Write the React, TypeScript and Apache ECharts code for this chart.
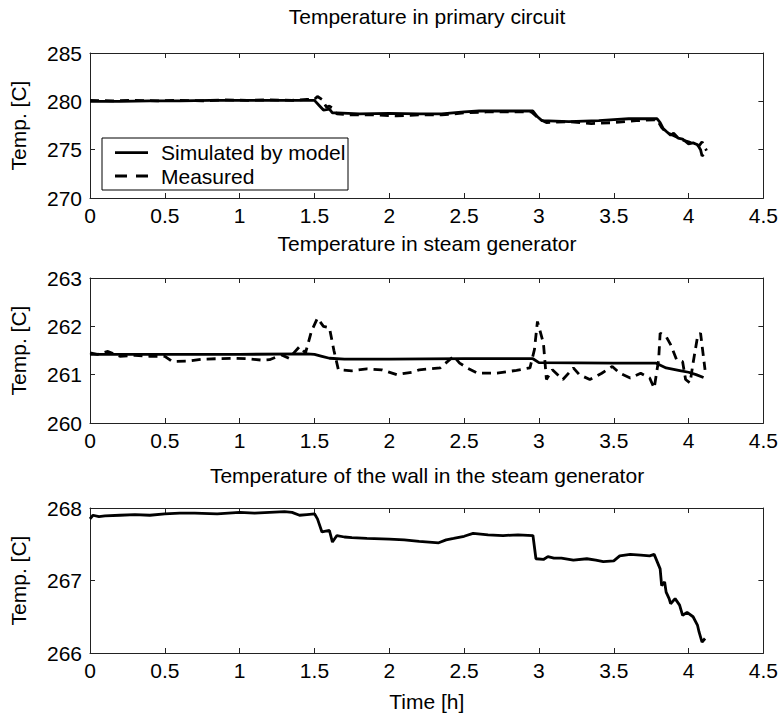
import React, { useEffect, useRef } from "react";
import * as echarts from "echarts";

// ---------- Data ----------
const xTicks = [0, 0.5, 1, 1.5, 2, 2.5, 3, 3.5, 4, 4.5];

// Plot 1: Temperature in primary circuit
const sim1T = [0, 0.2, 0.4, 0.6, 0.8, 1.0, 1.2, 1.4, 1.5, 1.53, 1.56, 1.6, 1.62, 1.65, 1.8, 2.0, 2.2, 2.35, 2.5, 2.6, 2.8, 2.96, 2.99, 3.02, 3.2, 3.4, 3.5, 3.6, 3.79, 3.81, 3.83, 3.85, 3.88, 3.9, 3.93, 3.96, 4.0, 4.03, 4.06, 4.08, 4.09, 4.1];
const sim1V = [280.0, 280.0, 280.05, 280.05, 280.1, 280.1, 280.1, 280.1, 280.1, 279.6, 279.1, 279.2, 278.8, 278.8, 278.7, 278.75, 278.7, 278.7, 278.9, 279.0, 279.0, 279.0, 278.4, 278.0, 277.9, 278.0, 278.1, 278.2, 278.2, 277.8, 277.2, 276.9, 276.5, 276.7, 276.2, 276.1, 275.6, 275.7, 275.5, 275.0, 274.35, 274.5];
const meas1T = [0, 0.15, 0.3, 0.45, 0.6, 0.75, 0.9, 1.05, 1.2, 1.35, 1.45, 1.5, 1.52, 1.55, 1.58, 1.6, 1.62, 1.65, 1.75, 1.9, 2.05, 2.2, 2.35, 2.5, 2.65, 2.8, 2.95, 3.0, 3.05, 3.2, 3.35, 3.5, 3.65, 3.79, 3.82, 3.85, 3.88, 3.92, 3.96, 4.0, 4.04, 4.07, 4.09, 4.12];
const meas1V = [280.1, 280.05, 280.1, 280.05, 280.1, 280.05, 280.15, 280.1, 280.15, 280.1, 280.2, 280.2, 280.5, 280.2, 279.4, 279.5, 279.3, 278.7, 278.6, 278.6, 278.5, 278.6, 278.6, 278.8, 278.9, 278.9, 278.9, 278.2, 277.8, 277.9, 277.7, 277.8, 278.0, 278.1, 277.3, 276.8, 276.6, 276.3, 276.0, 275.8, 275.6, 275.4, 275.8, 274.9];

// Plot 2: Temperature in steam generator
const sim2T = [0, 0.5, 1.0, 1.45, 1.5, 1.55, 1.6, 1.7, 2.0, 2.5, 2.96, 3.0, 3.5, 3.78, 3.85, 3.95, 4.0, 4.05, 4.1];
const sim2V = [261.42, 261.42, 261.42, 261.43, 261.42, 261.38, 261.34, 261.32, 261.32, 261.33, 261.33, 261.25, 261.24, 261.24, 261.14, 261.08, 261.05, 261.0, 260.94];
const meas2T = [0, 0.05, 0.12, 0.2, 0.3, 0.4, 0.5, 0.55, 0.65, 0.75, 0.85, 0.95, 1.05, 1.15, 1.2, 1.28, 1.33, 1.4, 1.44, 1.48, 1.52, 1.56, 1.6, 1.63, 1.66, 1.75, 1.85, 1.95, 2.05, 2.15, 2.2, 2.34, 2.43, 2.47, 2.52, 2.59, 2.72, 2.85, 2.94, 2.97, 2.99, 3.03, 3.05, 3.09, 3.16, 3.23, 3.27, 3.34, 3.42, 3.49, 3.54, 3.61, 3.68, 3.74, 3.77, 3.8, 3.81, 3.85, 3.88, 3.92, 3.96, 3.98, 4.01, 4.03, 4.06, 4.08, 4.11];
const meas2V = [261.45, 261.42, 261.48, 261.38, 261.4, 261.38, 261.38, 261.27, 261.28, 261.32, 261.33, 261.34, 261.33, 261.3, 261.31, 261.41, 261.34, 261.58, 261.45, 261.9, 262.17, 262.0, 261.97, 261.5, 261.1, 261.08, 261.12, 261.1, 261.0, 261.05, 261.1, 261.14, 261.38, 261.24, 261.14, 261.03, 261.03, 261.09, 261.14, 261.52, 262.1, 261.65, 260.9, 261.1, 260.9, 261.14, 261.0, 260.9, 261.03, 261.17, 261.03, 260.93, 261.03, 260.93, 260.72, 261.31, 261.86, 261.79, 261.62, 261.31, 261.27, 260.9, 260.83, 261.24, 261.79, 261.86, 261.1];

// Plot 3: Temperature of the wall in the steam generator
const sim3T = [0, 0.02, 0.06, 0.1, 0.2, 0.3, 0.4, 0.5, 0.6, 0.7, 0.85, 1.0, 1.1, 1.2, 1.3, 1.35, 1.4, 1.45, 1.5, 1.52, 1.55, 1.6, 1.62, 1.65, 1.7, 1.75, 1.85, 2.0, 2.1, 2.2, 2.33, 2.38, 2.43, 2.5, 2.56, 2.66, 2.76, 2.86, 2.96, 2.98, 3.03, 3.06, 3.1, 3.15, 3.23, 3.32, 3.38, 3.43, 3.5, 3.54, 3.61, 3.68, 3.74, 3.77, 3.81, 3.82, 3.84, 3.85, 3.87, 3.88, 3.91, 3.94, 3.96, 3.99, 4.03, 4.06, 4.07, 4.09, 4.11];
const sim3V = [267.85, 267.9, 267.88, 267.89, 267.9, 267.91, 267.9, 267.92, 267.93, 267.93, 267.92, 267.94, 267.93, 267.94, 267.95, 267.94, 267.9, 267.91, 267.92, 267.85, 267.67, 267.69, 267.53, 267.62, 267.6, 267.59, 267.58, 267.57, 267.56, 267.54, 267.52, 267.56, 267.58, 267.61, 267.65, 267.63, 267.62, 267.63, 267.62, 267.3, 267.29, 267.33, 267.31, 267.31, 267.28, 267.3, 267.28, 267.26, 267.27, 267.34, 267.36, 267.35, 267.34, 267.36, 267.16, 266.93, 266.98, 266.84, 266.75, 266.68, 266.75, 266.66, 266.52, 266.56, 266.5, 266.38, 266.29, 266.15, 266.2];

const titles = [
  "Temperature in primary circuit",
  "Temperature in steam generator",
  "Temperature of the wall in the steam generator",
];
const yRanges = [
  { min: 270, max: 285, interval: 5 },
  { min: 260, max: 263, interval: 1 },
  { min: 266, max: 268, interval: 1 },
];
const yName = "Temp. [C]";
const xName = "Time [h]";
const seriesNames = ["Simulated by model", "Measured"];

const zip = (t: number[], v: number[]) => t.map((x, i) => [x, v[i]]);

const FONT = "'Liberation Sans', Arial, Helvetica, sans-serif";
const FS = 21;
const AXIS_COLOR = "#222";

export default function App() {
  const ref = useRef<HTMLDivElement>(null);

  useEffect(() => {
    if (!ref.current) return;
    const chart = echarts.init(ref.current, undefined, { renderer: "svg" });

    const gridTops = [53, 278, 508];
    const grids = gridTops.map((top) => ({
      left: 90,
      width: 674,
      top,
      height: 145,
      show: false,
    }));

    const xAxes: any[] = [];
    const yAxes: any[] = [];
    for (let i = 0; i < 3; i++) {
      xAxes.push({
        type: "value",
        gridIndex: i,
        min: xTicks[0],
        max: xTicks[xTicks.length - 1],
        interval: 0.5,
        position: "bottom",
        axisLine: { show: true, onZero: false, lineStyle: { color: AXIS_COLOR, width: 1 } },
        axisTick: { show: true, inside: true, length: 5, lineStyle: { color: AXIS_COLOR } },
        splitLine: { show: false },
        axisLabel: { color: "#000", fontSize: FS, fontFamily: FONT, margin: 7 },
        name: i === 2 ? xName : "",
        nameLocation: "middle",
        nameGap: 38,
        nameTextStyle: { color: "#000", fontSize: FS, fontFamily: FONT },
      });
      yAxes.push({
        type: "value",
        gridIndex: i,
        min: yRanges[i].min,
        max: yRanges[i].max,
        interval: yRanges[i].interval,
        position: "left",
        axisLine: { show: true, onZero: false, lineStyle: { color: AXIS_COLOR, width: 1 } },
        axisTick: { show: true, inside: true, length: 5, lineStyle: { color: AXIS_COLOR } },
        splitLine: { show: false },
        axisLabel: { color: "#000", fontSize: FS, fontFamily: FONT, margin: 8 },
        name: yName,
        nameLocation: "middle",
        nameGap: 61,
        nameRotate: 90,
        nameTextStyle: { color: "#000", fontSize: FS, fontFamily: FONT },
      });
    }
    // secondary axes: box with ticks on top and right
    for (let i = 0; i < 3; i++) {
      xAxes.push({
        type: "value",
        gridIndex: i,
        min: xTicks[0],
        max: xTicks[xTicks.length - 1],
        interval: 0.5,
        position: "top",
        axisLine: { show: true, onZero: false, lineStyle: { color: AXIS_COLOR, width: 1 } },
        axisTick: { show: true, inside: true, length: 5, lineStyle: { color: AXIS_COLOR } },
        splitLine: { show: false },
        axisLabel: { show: false },
      });
      yAxes.push({
        type: "value",
        gridIndex: i,
        min: yRanges[i].min,
        max: yRanges[i].max,
        interval: yRanges[i].interval,
        position: "right",
        axisLine: { show: true, onZero: false, lineStyle: { color: AXIS_COLOR, width: 1 } },
        axisTick: { show: true, inside: true, length: 5, lineStyle: { color: AXIS_COLOR } },
        splitLine: { show: false },
        axisLabel: { show: false },
      });
    }

    const LW = 2.8;
    const DASH = [9, 6];
    const solid = { color: "#000", width: LW, type: "solid" as const };
    const dashed = { color: "#000", width: LW, type: DASH as any };

    const mkSeries = (name: string, idx: number, data: number[][], ls: any) => ({
      type: "line",
      name,
      xAxisIndex: idx,
      yAxisIndex: idx,
      data,
      showSymbol: false,
      symbol: "none",
      lineStyle: ls,
      itemStyle: { color: "#000" },
      z: name === seriesNames[0] ? 3 : 2,
    });

    const series = [
      mkSeries(seriesNames[0], 0, zip(sim1T, sim1V), solid),
      mkSeries(seriesNames[1], 0, zip(meas1T, meas1V), dashed),
      mkSeries(seriesNames[0], 1, zip(sim2T, sim2V), solid),
      mkSeries(seriesNames[1], 1, zip(meas2T, meas2V), dashed),
      mkSeries(seriesNames[0], 2, zip(sim3T, sim3V), solid),
    ];

    const titleYs = [16, 243, 475];
    const graphic: any[] = titles.map((t, i) => ({
      type: "text",
      x: 427,
      y: titleYs[i],
      z: 10,
      style: {
        text: t,
        fill: "#000",
        fontSize: FS,
        fontFamily: FONT,
        align: "center",
        verticalAlign: "middle",
      },
    }));

    // Legend box (drawn inside the first axes)
    const lg = { x: 102, y: 138, w: 246, h: 52 };
    const rowY = [152.7, 176];
    graphic.push({
      type: "group",
      z: 20,
      children: [
        {
          type: "rect",
          shape: { x: lg.x, y: lg.y, width: lg.w, height: lg.h },
          style: { fill: "#fff", stroke: "#000", lineWidth: 1 },
        },
        {
          type: "line",
          shape: { x1: 115, y1: rowY[0], x2: 148, y2: rowY[0] },
          style: { stroke: "#000", lineWidth: LW },
        },
        {
          type: "line",
          shape: { x1: 115, y1: rowY[1], x2: 148, y2: rowY[1] },
          style: { stroke: "#000", lineWidth: LW, lineDash: [12, 9] },
        },
        {
          type: "text",
          x: 161,
          y: rowY[0],
          style: { text: seriesNames[0], fill: "#000", fontSize: FS, fontFamily: FONT, verticalAlign: "middle", align: "left" },
        },
        {
          type: "text",
          x: 161,
          y: rowY[1],
          style: { text: seriesNames[1], fill: "#000", fontSize: FS, fontFamily: FONT, verticalAlign: "middle", align: "left" },
        },
      ],
    });

    chart.setOption({
      animation: false,
      backgroundColor: "#fff",
      grid: grids,
      xAxis: xAxes,
      yAxis: yAxes,
      series,
      graphic,
    });

    return () => chart.dispose();
  }, []);

  return (
    <div
      ref={ref}
      style={{ position: "fixed", left: 0, top: 0, width: 781, height: 714, background: "#fff" }}
    />
  );
}
